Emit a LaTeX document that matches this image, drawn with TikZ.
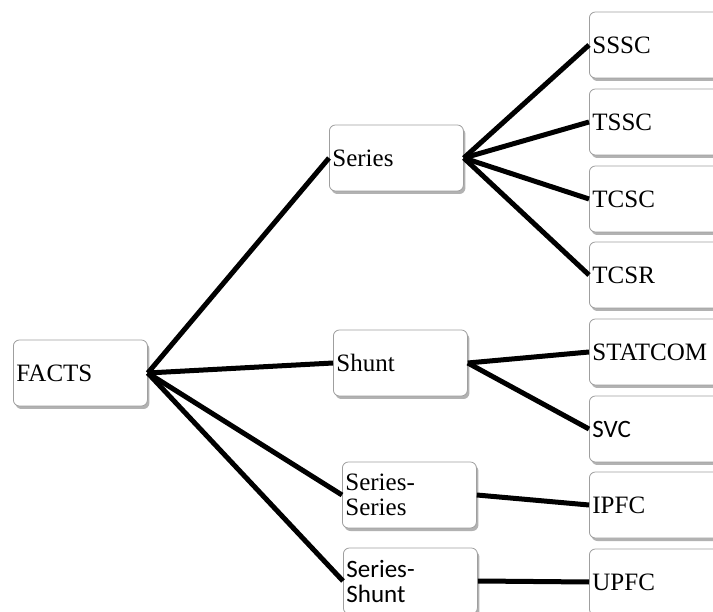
\documentclass[tikz,border=0pt]{standalone}
\usepackage{fontspec}
\setmainfont{Liberation Serif}
\newfontfamily\carlito{Carlito}
\usetikzlibrary{shadows}
\tikzset{
	box/.style={draw=gray!75, line width=0.8pt, rounded corners=6pt, fill=white,
		minimum height=66pt, text width=128pt, inner xsep=3pt, inner ysep=0pt,
		align=left, anchor=west, font=\fontsize{25}{25}\selectfont,
		drop shadow={shadow xshift=2pt, shadow yshift=-3pt, opacity=0.3, fill=black}},
	link/.style={line width=5pt}
}
\begin{document}
\begin{tikzpicture}[x=1pt,y=-1pt]
	\useasboundingbox (0,0) rectangle (713,612);
	\clip (0,0) rectangle (713,612);
	% root and groups
	\node[box] (facts) at (13,373) {FACTS};
	\node[box] (series) at (329,158) {Series};
	\node[box] (shunt) at (333,363) {Shunt};
	\node[box] (serser) at (342,495) {Series-\\Series};
	\node[box] (sershunt) at (343,581) {\carlito Series-\\\carlito Shunt};
	% devices
	\foreach \y/\name/\lbl in {45/sssc/SSSC,
							122/tssc/TSSC,
							199/tcsc/TCSC,
							275/tcsr/TCSR,
							352/statcom/STATCOM,
							429/svc/{\carlito SVC},
							505/ipfc/IPFC,
							582/upfc/UPFC}
		\node[box] (\name) at (589,\y) {\lbl};
	% connectors
	\foreach \a/\b in {facts/series,facts/shunt,facts/serser,facts/sershunt,
					series/sssc,series/tssc,series/tcsc,series/tcsr,
					shunt/statcom,shunt/svc,serser/ipfc,sershunt/upfc}
		\draw[link] (\a.east) -- (\b.west);
\end{tikzpicture}
\end{document}
